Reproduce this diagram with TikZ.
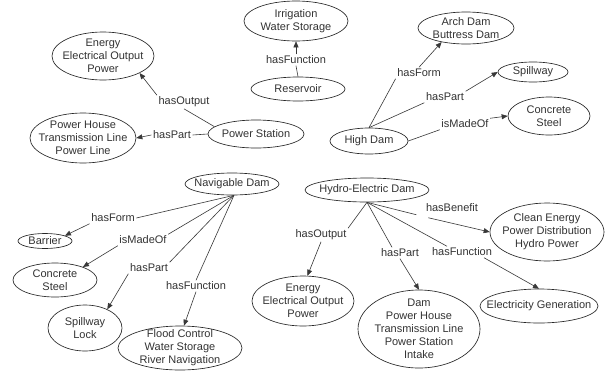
\documentclass[tikz,border=0pt]{standalone}
\usepackage{fontspec}
\setmainfont{Liberation Sans}
\usetikzlibrary{shapes.geometric,arrows.meta,calc}

\tikzset{
  concept/.style={ellipse, draw=black!85, line width=0.65pt, align=center,
    inner sep=-20pt, text=black!80, font=\fontsize{11}{13}\selectfont},
  rel/.style={inner sep=1.5pt, text=black!80, font=\fontsize{11}{13}\selectfont},
  link/.style={draw=black!78, line width=0.6pt},
  arr/.style={link, -{Triangle[length=6pt,width=5pt]}},
}

\begin{document}
\begin{tikzpicture}[x=1pt,y=-1pt]
\fill[white] (0,0) rectangle (605,370);
\useasboundingbox (0,0) rectangle (605,370);

% Reservoir
\node[concept, minimum width=104, minimum height=40] (irr) at (296,21) {Irrigation\\Water Storage};
\node[concept, minimum width=94, minimum height=24] (res) at (298,89) {Reservoir};
\node[rel] (hf1) at (296,60) {hasFunction};
\draw[link] (res.north) -- (hf1.south);
\draw[arr] (hf1.north) -- (irr.south);

% Power Station
\node[concept, minimum width=102, minimum height=48] (en1) at (103,56) {Energy\\Electrical Output\\Power};
\node[concept, minimum width=96, minimum height=28] (ps) at (256,134) {Power Station};
\node[concept, minimum width=106, minimum height=50] (ph) at (83,138) {Power House\\Transmission Line\\Power Line};
\node[rel] (ho1) at (184,102) {hasOutput};
\node[rel] (hp1) at (172,135) {hasPart};
\draw[link] (ps.170) -- (ho1.south);
\draw[arr] (ho1.north west) -- (en1.-25);
\draw[link] (ps.west) -- (hp1.east);
\draw[arr] (hp1.west) -- (ph.east);

% High Dam
\node[concept, minimum width=96, minimum height=32] (ad) at (466,28) {Arch Dam\\Buttress Dam};
\node[concept, minimum width=70, minimum height=20] (sp1) at (533,72) {Spillway};
\node[concept, minimum width=82, minimum height=38] (cs1) at (549,116) {Concrete\\Steel};
\node[concept, minimum width=78, minimum height=26] (hd) at (369,141) {High Dam};
\node[rel] (hfm1) at (419,73) {hasForm};
\node[rel] (hpt1) at (445,97) {hasPart};
\node[rel] (imo1) at (465,124) {isMadeOf};
\draw[link] (hd.north) -- (hfm1.south west);
\draw[arr] (hfm1.north) -- (ad.-150);
\draw[link] (hd.north) -- (hpt1.south west);
\draw[arr] (hpt1.north east) -- (sp1.west);
\draw[link] (hd.east) -- (imo1.south west);
\draw[arr] (imo1.north east) -- (cs1.west);

% Navigable Dam
\node[concept, minimum width=94, minimum height=22] (nd) at (232,184) {Navigable Dam};
\node[concept, minimum width=54, minimum height=15] (bar) at (45,241) {Barrier};
\node[concept, minimum width=84, minimum height=34] (cs2) at (55,280) {Concrete\\Steel};
\node[concept, minimum width=74, minimum height=46] (sl) at (85,328) {Spillway\\Lock};
\node[concept, minimum width=124, minimum height=44] (fc) at (180,348) {Flood Control\\Water Storage\\River Navigation};
\node[rel] (hfm2) at (113,218) {hasForm};
\node[rel] (imo2) at (143,240) {isMadeOf};
\node[rel] (hp2) at (149,268) {hasPart};
\node[rel] (hf2) at (196,286) {hasFunction};
\draw[link] (nd.-80) -- (hfm2.east);
\draw[arr] (hfm2.south west) -- (bar.15);
\draw[link] (nd.-80) -- (imo2.north east);
\draw[arr] (imo2.south west) -- (cs2.25);
\draw[link] (nd.-80) -- (hp2.north east);
\draw[arr] (hp2.south west) -- (sl.40);
\draw[link] (nd.-80) -- (hf2.north);
\draw[arr] (hf2.south) -- (fc.80);

% Hydro-Electric Dam
\node[concept, minimum width=124, minimum height=24] (he) at (367,190) {Hydro-Electric Dam};
\node[concept, minimum width=114, minimum height=58] (ce) at (547,232) {Clean Energy\\Power Distribution\\Hydro Power};
\node[concept, minimum width=118, minimum height=34] (eg) at (539,306) {Electricity Generation};
\node[concept, minimum width=122, minimum height=78] (dam) at (419,329) {Dam\\Power House\\Transmission Line\\Power Station\\Intake};
\node[concept, minimum width=102, minimum height=50] (en2) at (303,301) {Energy\\Electrical Output\\Power};
\node[rel] (hb) at (452,208) {hasBenefit};
\node[rel] (ho2) at (321,235) {hasOutput};
\node[rel] (hp3) at (400,253) {hasPart};
\node[rel] (hf3) at (462,252) {hasFunction};
\draw[link] (he.south) -- ($(hb.south west)+(-8,1)$);
\draw[arr] ($(hb.south west)+(4,4)$) -- (ce.west);
\draw[link] (he.south) -- (ho2.north east);
\draw[arr] (ho2.south) -- (en2.80);
\draw[link] (he.south) -- ($(hp3.north)+(-8,0)$);
\draw[arr] (hp3.south) -- (dam.north);
\draw[link] (he.south) -- ($(hf3.north)+(-15,0)$);
\draw[arr] ($(hf3.south)+(22,0)$) -- (eg.north);
\end{tikzpicture}
\end{document}
